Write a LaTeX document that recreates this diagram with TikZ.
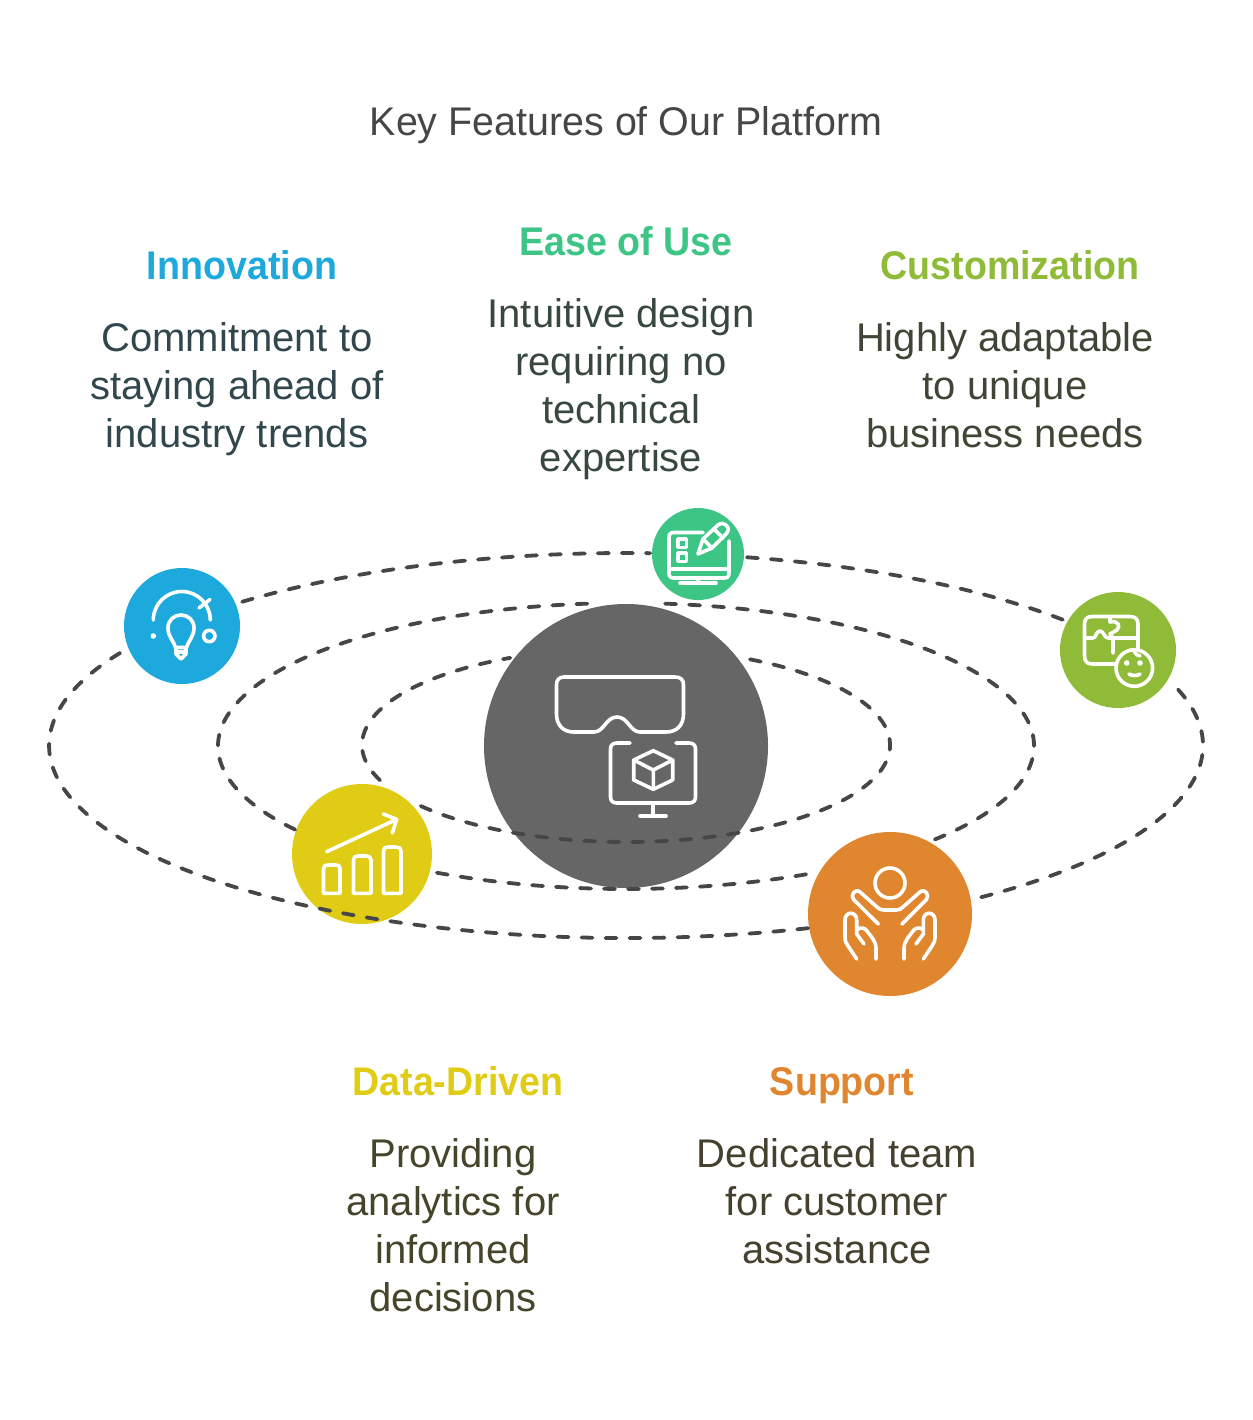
\documentclass[tikz,border=0pt]{standalone}
\usepackage{fontspec}
\setmainfont{Liberation Sans}
\newfontfamily\headfont[FakeStretch=0.94]{Liberation Sans}
\newfontfamily\titlefont[FakeStretch=0.985]{Liberation Sans}
\definecolor{blueC}{HTML}{1EA9DC}
\definecolor{greenC}{HTML}{3DC585}
\definecolor{limeC}{HTML}{8FBB38}
\definecolor{yellowC}{HTML}{E0CB15}
\definecolor{orangeC}{HTML}{E0862F}
\definecolor{hubC}{HTML}{666666}
\definecolor{lineC}{HTML}{464646}
\definecolor{blueT}{HTML}{32464E}
\definecolor{greenT}{HTML}{38483F}
\definecolor{limeT}{HTML}{3F4636}
\definecolor{yellowT}{HTML}{45452A}
\definecolor{orangeT}{HTML}{46402F}
\tikzset{
  disc/.style={circle, inner sep=0pt, outer sep=0pt},
  orbit/.style={draw=lineC, line width=3.8pt, line cap=round, dash pattern=on 11pt off 13pt},
  iconline/.style={draw=white, line width=3.6pt, line cap=round, line join=round},
  heading/.style={inner sep=0pt, execute at begin node=\strut, font=\fontsize{40}{48}\selectfont\headfont\bfseries},
  textbody/.style={inner sep=0pt, align=center, execute at begin node=\strut, execute at end node=\strut, font=\fontsize{40}{48}\selectfont},
}
\begin{document}
\begin{tikzpicture}[x=1pt, y=-1pt]
\useasboundingbox (0,0) rectangle (1252,1420);
% circles
\node[disc, fill=hubC, minimum size=284] (hub) at (626,746) {};
\node[disc, fill=blueC, minimum size=116] (bulb) at (182,626) {};
\node[disc, fill=greenC, minimum size=92] (screen) at (698,554) {};
\node[disc, fill=limeC, minimum size=116] (puzzle) at (1118,650) {};
\node[disc, fill=yellowC, minimum size=140] (chart) at (362,854) {};
\node[disc, fill=orangeC, minimum size=164] (hands) at (890,914) {};
% orbits
\foreach \a/\b in {228.3/272.4, -77.9/-40.5, -16.9/52.8, 71.6/210.3}
  \draw[orbit] ({626+577*cos(\a)},{745.5+192.5*sin(\a)}) arc[start angle=\a, end angle=\b, x radius=577, y radius=192.5];
\foreach \a/\b in {-84.5/40.8, 63.8/118.4, 144.2/265.4}
  \draw[orbit] ({626+408*cos(\a)},{746+143*sin(\a)}) arc[start angle=\a, end angle=\b, x radius=408, y radius=143];
\foreach \a/\b in {-62/141.3, 158.7/244}
  \draw[orbit] ({626+264*cos(\a)},{745+97*sin(\a)}) arc[start angle=\a, end angle=\b, x radius=264, y radius=97];
% hub icon
\draw[iconline] (564,677) -- (675,677) .. controls (681,677) and (683.5,680) .. (683.5,685) -- (683.5,714) .. controls (683.5,725) and (677,732) .. (666,732) -- (640,732) .. controls (630,732) and (628,717) .. (617,717) .. controls (606,717) and (604,732) .. (594,732) -- (574,732) .. controls (563,732) and (556.5,725) .. (556.5,714) -- (556.5,685) .. controls (556.5,680) and (559,677) .. (564,677) -- cycle;
\draw[iconline] (630,743) -- (617,743) .. controls (613,743) and (610.5,745) .. (610.5,749) -- (610.5,797) .. controls (610.5,801) and (613,803) .. (617,803) -- (689,803) .. controls (693,803) and (695.5,801) .. (695.5,797) -- (695.5,749) .. controls (695.5,745) and (693,743) .. (689,743) -- (676,743);
\draw[iconline] (653,803) -- (653,816) (640,816) -- (666,816);
\draw[iconline] (653.3,750.7) -- (672.7,760) -- (672.7,780) -- (653.3,789.3) -- (633.7,780) -- (633.7,760) -- cycle;
\draw[iconline] (633.7,760) -- (653.3,770) -- (672.7,760) (653.3,770) -- (653.3,789.3);
% bulb icon
\draw[iconline] (153.3,620) arc[start angle=180, end angle=360, x radius=28.5, y radius=28.5];
\draw[iconline] (199,608) -- (210,599.5);
\draw[iconline] (175.5,647.5) .. controls (174,641) and (168,637) .. (168,628) .. controls (168,620) and (174,615) .. (181,615) .. controls (188,615) and (194,620) .. (194,628) .. controls (194,637) and (188,641) .. (186.5,647.5) -- cycle;
\draw[iconline] (176,647.5) -- (176,654) -- (181,659) -- (186,654) -- (186,647.5) (176,652) -- (186,652);
\fill[white] (153.3,636) circle (2.8);
\draw[iconline] (209.3,636) circle (5.7);
% screen icon
\draw[iconline] (703,532.5) -- (674,532.5) .. controls (670.5,532.5) and (669,534) .. (669,537.5) -- (669,573) .. controls (669,576.5) and (670.5,578) .. (674,578) -- (724,578) .. controls (727.5,578) and (729,576.5) .. (729,573) -- (729,541);
\draw[iconline] (669,569) -- (729,569) (698,578) -- (698,583) (680,583) -- (716,583);
\draw[iconline] (678,539) rectangle (686.3,547.3) (678,553) rectangle (686.3,561.3);
\draw[iconline] (698,554) -- (703,539) -- (718,525) .. controls (721,523) and (724,523) .. (726,525) .. controls (729,528) and (729,531) .. (727,533) -- (712,548) -- cycle;
\draw[iconline] (703,539) -- (712,548) (714,529) -- (723,538);
% puzzle icon
\draw[iconline] (1115,664) -- (1092,664) .. controls (1087,664) and (1084.5,661) .. (1084.5,656) -- (1084.5,624) .. controls (1084.5,619) and (1087,616.5) .. (1092,616.5) -- (1130,616.5) .. controls (1135,616.5) and (1138,619) .. (1138,624) -- (1138,650);
\draw[iconline] (1084.5,638) -- (1093,638) .. controls (1096,638) and (1096,631) .. (1100,631) .. controls (1104,631) and (1104,638) .. (1108,638) -- (1138,638);
\draw[iconline] (1110,617) -- (1110,622) .. controls (1118,620) and (1121,626) .. (1117,630) .. controls (1115,632) and (1112,632) .. (1110,634) -- (1113,638) -- (1113,653);
\draw[iconline] (1134.3,668) circle (18.3);
\draw[iconline] (1134,651) .. controls (1136,654) and (1137,656) .. (1140,656);
\fill[white] (1126.7,663) circle (2.8) (1140,663) circle (2.8);
\draw[iconline] (1129,674) .. controls (1132,676) and (1137,676) .. (1140,674);
% chart icon
\draw[iconline] (323.5,893.3) -- (323.5,869) .. controls (323.5,866) and (325,865) .. (328,865) -- (336,865) .. controls (339,865) and (340,866) .. (340,869) -- (340,893.3) -- cycle;
\draw[iconline] (353.5,893.3) -- (353.5,860) .. controls (353.5,857) and (355,856) .. (358,856) -- (366,856) .. controls (369,856) and (371,857) .. (371,860) -- (371,893.3) -- cycle;
\draw[iconline] (383.5,893.3) -- (383.5,851) .. controls (383.5,848) and (385,847) .. (388,847) -- (396,847) .. controls (399,847) and (401,848) .. (401,851) -- (401,893.3) -- cycle;
\draw[iconline] (326.7,851.7) -- (396.7,819.3) (383.3,814) -- (396.7,819.3) -- (392.3,833);
% hands icon
\draw[iconline] (890,883) circle (15);
\draw[iconline] (878.3,924) -- (853.5,899.5) .. controls (850,895) and (855,888) .. (860,892) -- (877,907) .. controls (880,909.5) and (881,910) .. (884,910) -- (896,910) .. controls (899,910) and (900,909.5) .. (903,907) -- (920,892) .. controls (925,888) and (930,895) .. (926.5,899.5) -- (902,924);
\draw[iconline] (856.7,959) -- (848,946) .. controls (846,943) and (845,941) .. (845,937) -- (845,920) .. controls (845,911) and (856.7,911) .. (856.7,920) -- (856.7,934) -- (864,944) (858,929) .. controls (861,927) and (865,928) .. (867,931) -- (873,939) .. controls (875,942) and (876,945) .. (876,949) -- (876,959);
\draw[iconline] (923.3,959) -- (932,946) .. controls (934,943) and (935,941) .. (935,937) -- (935,920) .. controls (935,911) and (923.3,911) .. (923.3,920) -- (923.3,934) -- (916,944) (922,929) .. controls (919,927) and (915,928) .. (913,931) -- (907,939) .. controls (905,942) and (904,945) .. (904,949) -- (904,959);
% texts
\node[textbody, text=lineC, font=\fontsize{40}{48}\selectfont\titlefont] (title) at (626,126) {Key Features of Our Platform};
\node[heading, text=blueC] (innovationhead) at (242,269.6) {Innovation};
\node[textbody, text=blueT] (innovationtext) at (237,392.4) {Commitment to\\staying ahead of\\industry trends};
\node[heading, text=greenC] (easehead) at (626,245.6) {Ease of Use};
\node[textbody, text=greenT] (easetext) at (621,392.4) {Intuitive design\\requiring no\\technical\\expertise};
\node[heading, text=limeC] (customhead) at (1010,269.6) {Customization};
\node[textbody, text=limeT] (customtext) at (1005,392.4) {Highly adaptable\\to unique\\business needs};
\node[heading, text=yellowC] (datahead) at (458,1085.4) {Data-Driven};
\node[textbody, text=yellowT] (datatext) at (453,1232.4) {Providing\\analytics for\\informed\\decisions};
\node[heading, text=orangeC] (supporthead) at (842,1085.4) {Support};
\node[textbody, text=orangeT] (supporttext) at (837,1208.4) {Dedicated team\\for customer\\assistance};
\end{tikzpicture}
\end{document}
